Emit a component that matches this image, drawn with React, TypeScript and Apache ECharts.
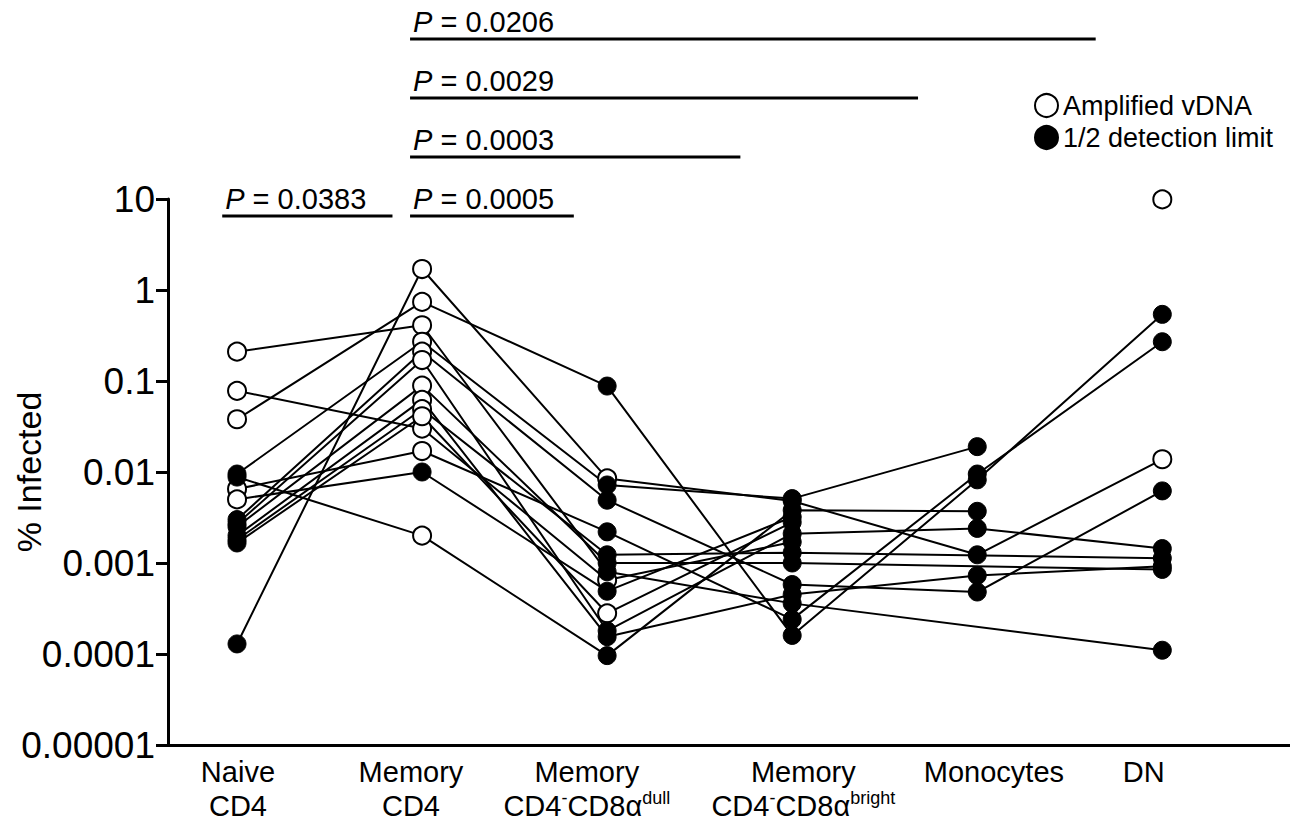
import React, { useEffect, useRef } from "react";
import * as echarts from "echarts";

// ---------- data ----------
const categories = ["Naive CD4", "Memory CD4", "Memory CD4-CD8α dull", "Memory CD4-CD8α bright", "Monocytes", "DN"];
const xLabels = [
  "Naive\nCD4",
  "Memory\nCD4",
  "Memory\nCD4{s|-}CD8α{s|dull}",
  "Memory\nCD4{s|-}CD8α{s|bright}",
  "Monocytes",
  "DN",
];
const yTickLabels = ["0.00001", "0.0001", "0.001", "0.01", "0.1", "1", "10"];

// % infected per donor across the 6 categories (null = no value)
const donor01 = [0.21, 0.41, 0.0008, 0.00036, null, 0.00011];
const donor02 = [0.078, 0.03, 0.00065, 0.0017, null, null];
const donor03 = [0.038, 0.74, 0.088, 0.00016, 0.0082, 0.54];
const donor04 = [0.0095, 0.27, 0.0072, 0.0051, 0.019, null];
const donor05 = [0.0065, 0.017, 0.0022, 0.00024, 0.0095, 0.27];
const donor06 = [0.005, 0.01, 0.00049, 0.0032, null, null];
const donor07 = [0.003, 0.21, 0.0049, 0.00058, 0.00048, 0.0062];
const donor08 = [0.0027, 0.17, 0.00018, 0.0021, 0.0024, 0.00144];
const donor09 = [0.0025, 0.089, 0.001, 0.001, null, 0.00085];
const donor10 = [0.002, 0.062, 0.000155, 0.00045, 0.00073, 0.00092];
const donor11 = [0.0018, 0.049, 0.00123, 0.0013, null, 0.00113];
const donor12 = [0.00166, 0.041, 0.00028, 0.0028, null, null];
const donor13 = [0.000129, 1.7, 0.0085, 0.0048, 0.00123, 0.0138];
const donor14 = [0.0088, 0.002, 0.000096, 0.0038, 0.0037, null];
const donor15 = [null, null, null, null, null, 9.9];

// marker per point: o = amplified vDNA (open), f = 1/2 detection limit (filled), - = none
const kind01 = "ooff-f";
const kind02 = "ooof--";
const kind03 = "ooffff";
const kind04 = "foffff";
const kind05 = "ooffff";
const kind06 = "offf--";
const kind07 = "foffff";
const kind08 = "foffff";
const kind09 = "foff-f";
const kind10 = "foffff";
const kind11 = "foff-f";
const kind12 = "foof--";
const kind13 = "fooffo";
const kind14 = "foffff";
const kind15 = "-----o";

// significance comparisons
const sigP = ["0.0383", "0.0005", "0.0003", "0.0029", "0.0206"];
const sigStart = [-0.08, 0.935, 0.935, 0.935, 0.935];
const sigEnd = [0.84, 1.82, 2.72, 3.68, 4.64];
const sigRow = [0, 0, 1, 2, 3];

const legendNames = ["Amplified vDNA", "1/2 detection limit"];

// ---------- layout ----------
const FONT = "'Liberation Sans', Arial, Helvetica, sans-serif";
const X_MIN = -0.373;
const X_MAX = 5.69;
// where each category caption sits along the x axis (as in the original figure)
const labelAnchors = [0.005, 0.94, 1.89, 3.06, 4.09, 4.9];

const donors: [(number | null)[], string][] = [
  [donor01, kind01], [donor02, kind02], [donor03, kind03], [donor04, kind04], [donor05, kind05],
  [donor06, kind06], [donor07, kind07], [donor08, kind08], [donor09, kind09], [donor10, kind10],
  [donor11, kind11], [donor12, kind12], [donor13, kind13], [donor14, kind14], [donor15, kind15],
];

function buildOption() {
  const openPts: number[][] = [];
  const filledPts: number[][] = [];
  const lineSeries: any[] = [];
  donors.forEach(([vals, kinds]) => {
    const pts: number[][] = [];
    vals.forEach((v, i) => {
      if (v == null) return;
      pts.push([i, v]);
      if (kinds[i] === "o") openPts.push([i, v]);
      else filledPts.push([i, v]);
    });
    if (pts.length > 1) {
      lineSeries.push({
        type: "line",
        xAxisIndex: 0,
        yAxisIndex: 0,
        data: pts,
        symbol: "none",
        silent: true,
        lineStyle: { color: "#000", width: 2, opacity: 1 },
        z: 2,
      });
    }
  });

  return {
    animation: false,
    backgroundColor: "#fff",
    textStyle: { fontFamily: FONT },
    grid: [
      { left: 168, right: 0, top: 199, bottom: 78, containLabel: false, outerBoundsMode: "none" },
      { left: 168, right: 0, top: 39, height: 177, containLabel: false, outerBoundsMode: "none" },
    ],
    legend: {
      data: legendNames,
      orient: "vertical",
      left: 1029,
      top: 87,
      itemWidth: 23,
      itemHeight: 23,
      itemGap: 5,
      textStyle: { fontSize: 27, fontFamily: FONT, color: "#000" },
    },
    xAxis: [
      {
        type: "value",
        gridIndex: 0,
        min: X_MIN,
        max: X_MAX,
        axisLine: { show: true, onZero: false, lineStyle: { color: "#000", width: 3 } },
        axisTick: { show: false },
        splitLine: { show: false },
        axisLabel: {
          customValues: labelAnchors,
          formatter: (v: number) => xLabels[Math.round(v)] ?? "",
          margin: 10,
          color: "#000",
          fontSize: 29,
          lineHeight: 34,
          fontFamily: FONT,
          rich: {
            s: { fontSize: 18, verticalAlign: "top", color: "#000", fontFamily: FONT },
          },
        },
      },
      { type: "value", gridIndex: 1, min: X_MIN, max: X_MAX, show: false },
    ],
    yAxis: [
      {
        type: "log",
        logBase: 10,
        gridIndex: 0,
        min: 0.00001,
        max: 10,
        interval: 1,
        name: "% Infected",
        nameLocation: "middle",
        nameGap: 122,
        nameRotate: 90,
        nameMoveOverlap: false,
        nameTextStyle: { fontSize: 34, fontFamily: FONT, color: "#000" },
        axisLine: { show: true, onZero: false, lineStyle: { color: "#000", width: 3 } },
        axisTick: { show: true, inside: false, length: 12, lineStyle: { color: "#000", width: 3 } },
        minorTick: { show: false },
        splitLine: { show: false },
        axisLabel: {
          formatter: (v: number) => yTickLabels[Math.round(Math.log10(v)) + 5] ?? "",
          fontSize: 37,
          color: "#000",
          margin: 13,
          fontFamily: FONT,
        },
      },
      { type: "value", gridIndex: 1, min: 0, max: 3, show: false },
    ],
    series: [
      ...lineSeries,
      {
        name: legendNames[0],
        type: "scatter",
        xAxisIndex: 0,
        yAxisIndex: 0,
        data: openPts,
        symbol: "circle",
        symbolSize: 18,
        itemStyle: { color: "#fff", borderColor: "#000", borderWidth: 2, opacity: 1 },
        z: 4,
      },
      {
        name: legendNames[1],
        type: "scatter",
        xAxisIndex: 0,
        yAxisIndex: 0,
        data: filledPts,
        symbol: "circle",
        symbolSize: 18,
        itemStyle: { color: "#000", borderColor: "#000", borderWidth: 1, opacity: 1 },
        z: 4,
      },
      {
        type: "custom",
        xAxisIndex: 1,
        yAxisIndex: 1,
        silent: true,
        clip: false,
        z: 5,
        data: sigP.map((_, i) => [sigStart[i], sigEnd[i], sigRow[i], i]),
        renderItem: (_params: any, api: any) => {
          const i = api.value(3);
          const a = api.coord([api.value(0), api.value(2)]);
          const b = api.coord([api.value(1), api.value(2)]);
          return {
            type: "group",
            children: [
              {
                type: "line",
                shape: { x1: a[0], y1: a[1], x2: b[0], y2: b[1] },
                style: { stroke: "#000", lineWidth: 3 },
              },
              {
                type: "text",
                x: a[0] + 3,
                y: a[1] - 3,
                style: {
                  text: "{i|P} = " + sigP[i],
                  fontSize: 29,
                  fontFamily: FONT,
                  fill: "#000",
                  align: "left",
                  verticalAlign: "bottom",
                  rich: {
                    i: { fontStyle: "italic", fontSize: 29, fontFamily: FONT, fill: "#000" },
                  },
                },
              },
            ],
          };
        },
      },
    ],
  };
}

export default function App() {
  const ref = useRef<HTMLDivElement>(null);
  useEffect(() => {
    if (!ref.current) return;
    const chart = echarts.init(ref.current, null, { renderer: "svg" });
    chart.setOption(buildOption() as any);
    return () => chart.dispose();
  }, []);
  return (
    <div
      ref={ref}
      style={{ position: "fixed", left: 0, top: 0, width: 1290, height: 823, background: "#fff" }}
    />
  );
}
